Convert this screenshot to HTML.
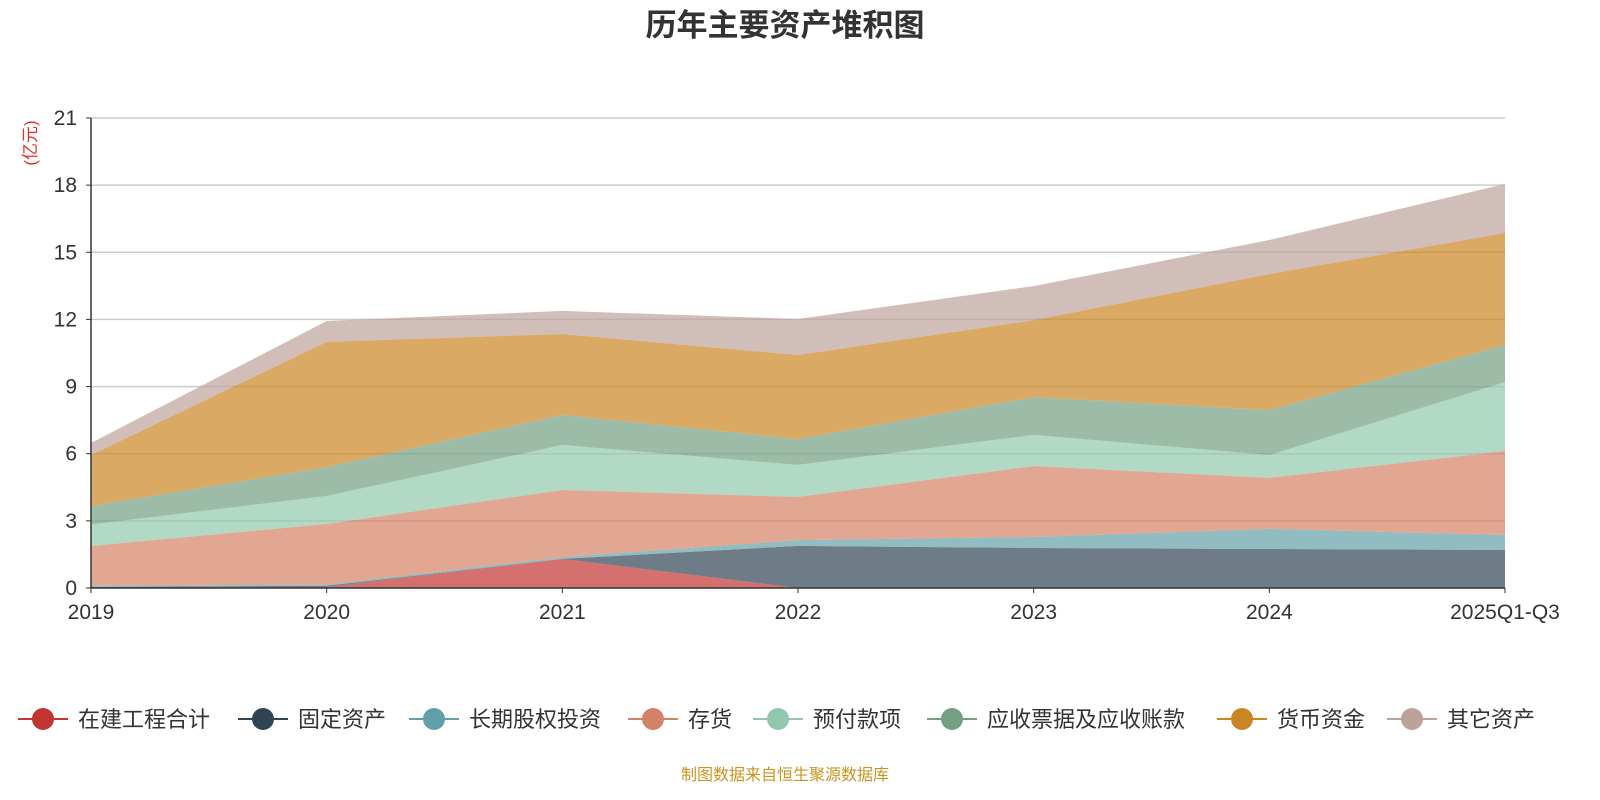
<!DOCTYPE html>
<html><head><meta charset="utf-8"><style>
body{margin:0;background:#fff;}
svg{display:block;font-family:"Liberation Sans","Noto Sans CJK SC",sans-serif;}
</style></head><body>
<svg id="chart" width="1600" height="800">
<text x="785" y="36" text-anchor="middle" font-size="31" font-weight="bold" fill="#333">历年主要资产堆积图</text>
<text transform="translate(36,143) rotate(-90)" text-anchor="middle" font-size="17" fill="#e03030">(亿元)</text>
<g id="grid"></g><g id="areas"></g><g id="axes"></g><g id="legend"></g>
<text x="785" y="780" text-anchor="middle" font-size="16" fill="#c8961e">制图数据来自恒生聚源数据库</text>
</svg>
<script>
const categories=["2019","2020","2021","2022","2023","2024","2025Q1-Q3"];
const seriesNames=["在建工程合计","固定资产","长期股权投资","存货","预付款项","应收票据及应收账款","货币资金","其它资产"];
const s0=[0.0,0.05,1.3,0.0,0.0,0.0,0.0];
const s1=[0.05,0.05,0.0,1.88,1.79,1.74,1.70];
const s2=[0.05,0.05,0.08,0.26,0.49,0.90,0.67];
const s3=[1.78,2.71,3.0,1.93,3.17,2.28,3.75];
const s4=[0.96,1.25,2.01,1.43,1.39,1.02,3.08];
const s5=[0.82,1.29,1.34,1.16,1.69,2.01,1.66];
const s6=[2.28,5.6,3.62,3.75,3.44,6.08,5.0];
const s7=[0.54,0.93,1.03,1.61,1.52,1.52,2.19];
const yTicks=[0,3,6,9,12,15,18,21];
const colors=["#c23531","#2f4554","#61a0a8","#d48265","#91c7ae","#749f83","#ca8622","#bda29a"];
const series=[s0,s1,s2,s3,s4,s5,s6,s7];
const NS="http://www.w3.org/2000/svg";
const x0=91,x1=1505,yb=588,yt=118;
const xs=i=>x0+i*(x1-x0)/(categories.length-1);
const ys=v=>yb-v*(yb-yt)/21;
function mk(t,a,p){const e=document.createElementNS(NS,t);for(const k in a)e.setAttribute(k,a[k]);p.appendChild(e);return e;}
const grid=document.getElementById('grid'),axes=document.getElementById('axes'),areas=document.getElementById('areas'),legend=document.getElementById('legend');
yTicks.forEach(v=>{
 if(v>0){const l=mk('line',{x1:x0,x2:x1,y1:ys(v),y2:ys(v),stroke:'#ccc','stroke-width':1.5},grid);
 
 }
 const t=mk('text',{x:x0-14,y:ys(v)+7,'text-anchor':'end','font-size':21,fill:'#333'},axes);t.textContent=v;
 
 
 mk('line',{x1:x0-5,x2:x0,y1:ys(v),y2:ys(v),stroke:'#333'},axes);
});
let base=categories.map(()=>0);
series.forEach((s,k)=>{
 const top=s.map((v,i)=>base[i]+v);
 let d='M'+top.map((v,i)=>xs(i)+','+ys(v)).join(' L');
 for(let i=categories.length-1;i>=0;i--)d+=' L'+xs(i)+','+ys(base[i]);
 const p=mk('path',{d:d+'Z',fill:colors[k],'fill-opacity':0.7,stroke:'none'},areas);
 
 
 base=top;
});
mk('line',{x1:x0,x2:x0,y1:yt,y2:yb,stroke:'#333','stroke-width':1.5},axes);
mk('line',{x1:x0,x2:x1,y1:yb,y2:yb,stroke:'#333','stroke-width':1.5},axes);
categories.forEach((c,i)=>{
 mk('line',{x1:xs(i),x2:xs(i),y1:yb,y2:yb+5,stroke:'#333'},axes);
 const t=mk('text',{x:xs(i),y:yb+31,'text-anchor':'middle','font-size':21,fill:'#333'},axes);t.textContent=c;
 
 
});
const lx=[18,238,409,628,753,927,1217,1387];
seriesNames.forEach((n,k)=>{
 const g=mk('g',{},legend);
 
 
 mk('line',{x1:lx[k],x2:lx[k]+50,y1:719,y2:719,stroke:colors[k],'stroke-width':2},g);
 mk('circle',{cx:lx[k]+25,cy:719,r:11,fill:colors[k]},g);
 const t=mk('text',{x:lx[k]+60,y:727,'font-size':22,fill:'#333'},g);t.textContent=n;
});
</script>
</body></html>
